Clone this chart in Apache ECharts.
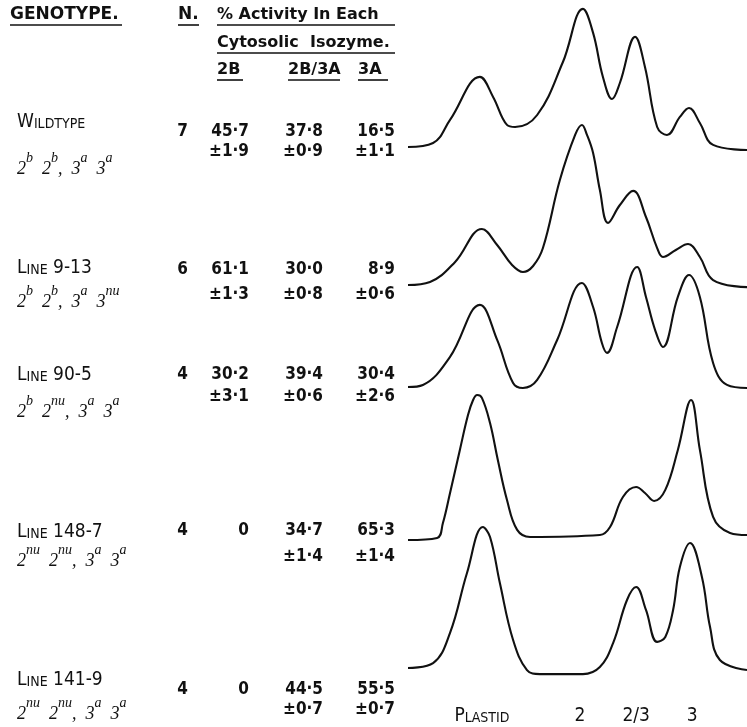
<!DOCTYPE html>
<html>
<head>
<meta charset="utf-8">
<style>html,body{margin:0;padding:0;background:#fff}#main{width:747px;height:727px}</style>
</head>
<body>
<div id="main"></div>
<script src="https://cdn.jsdelivr.net/npm/echarts@6/dist/echarts.min.js"></script>
<script>
// table values
var genotypes = ['WILDTYPE', 'LINE 9-13', 'LINE 90-5', 'LINE 148-7', 'LINE 141-9'];
var alleles = ['2^b 2^b, 3^a 3^a', '2^b 2^b, 3^a 3^nu', '2^b 2^nu, 3^a 3^a', '2^nu 2^nu, 3^a 3^a', '2^nu 2^nu, 3^a 3^a'];
var nSamples = [7, 6, 4, 4, 4];
var pct2B = [45.7, 61.1, 30.2, 0, 0];
var sem2B = [1.9, 1.3, 3.1, null, null];
var pct2B3A = [37.8, 30.0, 39.4, 34.7, 44.5];
var sem2B3A = [0.9, 0.8, 0.6, 1.4, 0.7];
var pct3A = [16.5, 8.9, 30.4, 65.3, 55.5];
var sem3A = [1.1, 0.6, 2.6, 1.4, 0.7];

// densitometer scans: [relative mobility, absorbance]
var scanWild = [[0,0],[7.4,2.5],[12.4,16.9],[21.2,43.8],[25.1,31.3],[29.2,13.8],[31.6,12.5],[38.1,20],[45.7,53.1],[51.6,86.3],[54.6,71.3],[57.5,43.8],[60.2,30],[62.5,40],[67,68.8],[69.9,50],[73.5,12.5],[76.4,7.5],[80.2,18.8],[82.9,24.4],[86.1,15],[90,1.3],[100,-1.9]];
var scan913 = [[0,0],[6.5,1.9],[13.9,14.4],[21.8,35],[26.3,25],[30.7,12.5],[33.9,8.1],[36.9,11.9],[39.8,23.1],[44.8,65.6],[49.3,93.8],[51.3,100],[52.8,93.8],[54.6,82.5],[56.6,59.4],[59,38.8],[62.5,50],[66.4,58.8],[70.2,42.5],[73.5,23.1],[75.2,17.5],[79,21.9],[82.6,25.6],[86.1,17.5],[90,3.1],[100,-1.3]];
var scan905 = [[0,0],[4.4,1.3],[12.4,18.8],[21.2,51.3],[26.3,29.4],[31,2.5],[33.9,-0.6],[38.1,4.4],[44,29.4],[51.3,65],[54.6,50],[57.2,27.5],[58.7,21.3],[61.7,37.5],[67.6,75],[70.2,56.3],[72.9,35.6],[75.2,25],[79.6,56.3],[82.9,70],[86.1,56.3],[90,15],[94.1,1.3],[100,-0.6]];
var scan1487 = [[0,0],[8.6,1.3],[10.3,10.6],[12.4,29.4],[15.3,56.3],[17.7,78.1],[19.2,87.5],[20.4,90.6],[21.8,88.8],[24.2,73.1],[26.5,50],[29.2,25],[32.2,6.3],[36,1.9],[56.6,3.1],[59.6,8.1],[63.4,26.9],[67.3,33.1],[69.9,29.4],[72.6,24.4],[75.9,31.3],[79.6,56.3],[83.5,87.5],[86.1,56.3],[90,14.4],[95,4.4],[100,3.1]];
var scan1419 = [[0,0],[7.4,3.1],[12.4,21.9],[17.4,59.4],[22.1,88.1],[24.2,81.9],[27.1,53.1],[31,17.5],[35.1,-1.3],[38.9,-3.8],[51.6,-3.8],[56.6,0.6],[60.5,15.6],[64.6,42.5],[67.3,50.6],[70.2,36.3],[73.5,16.3],[75.9,19.4],[78.2,36.3],[80.2,63.1],[83.2,78.1],[86.7,56.9],[89.1,25.6],[92,5],[100,-1.3]];
var scans = [scanWild, scan913, scan905, scan1487, scan1419];

// x-axis band labels
var bandLabels = ['PLASTID', '2', '2/3', '3'];
var bandPos = [21.8, 50.7, 67.3, 83.8];

// layout
var baseY = [147, 285, 387, 540, 668];
var rowLabelY = [122, 268, 375, 532, 680];
var rowValY = [132, 270, 375, 531, 690];
var rowSemY = [152, 295, 397, 557, 710];
var rowAlleleY = [165, 298, 408, 557, 710];
var pxPerUnit = 1.6, yMin = -10;

var INK = '#111';
var HEAD = '"DejaVu Sans", sans-serif';
var NUM = '"DejaVu Sans Condensed", "Liberation Sans Narrow", "DejaVu Sans", sans-serif';
var LETTER = '"DejaVu Sans Condensed", "Liberation Sans Narrow", sans-serif';

var chart = echarts.init(document.getElementById('main'));

var grids = [], xAxes = [], yAxes = [], series = [];
scans.forEach(function (d, i) {
    var yMax = Math.min(105, Math.floor(baseY[i] / pxPerUnit));
    grids.push({left: 408, width: 339, top: baseY[i] - yMax * pxPerUnit,
        height: (yMax - yMin) * pxPerUnit, outerBoundsMode: 'none'});
    xAxes.push({type: 'value', gridIndex: i, min: 0, max: 100, show: false});
    yAxes.push({type: 'value', gridIndex: i, min: yMin, max: yMax, show: false});
    series.push({
        name: genotypes[i], type: 'line', xAxisIndex: i, yAxisIndex: i,
        data: d, smooth: 0.4, showSymbol: false, symbol: 'none',
        lineStyle: {color: INK, width: 2.1}
    });
});

chart.setOption({
    backgroundColor: '#fff',
    animation: false,
    grid: grids,
    xAxis: xAxes,
    yAxis: yAxes,
    series: series
});

function fmt(v) {
    return v === 0 ? '0' : v.toFixed(1).replace('.', '\u00b7');
}
function caps(s) {
    var out = '', prev = ' ';
    for (var k = 0; k < s.length; k++) {
        var c = s[k];
        var small = /[A-Z]/.test(c) && prev !== ' ';
        out += small ? '{s|' + c + '}' : '{B|' + c + '}';
        prev = c;
    }
    return out;
}
function allele(s) {
    return s.split(' ').map(function (w) {
        return w.replace(/^(\d)\^(\w+)(,?)$/, function (m, a, b, c) {
            return '{g|' + a + '}{sup|' + b + '}' + (c ? '{g|,}' : '');
        });
    }).join('{g|  }');
}
function txt(text, x, y, font, align) {
    return {type: 'text', x: x, y: y, silent: true,
        style: {text: text, font: font, fill: INK, align: align || 'left', verticalAlign: 'middle',
            textAlign: align || 'left', textVerticalAlign: 'middle'}};
}
function uline(x1, x2, y) {
    return {type: 'line', silent: true, shape: {x1: x1, y1: y, x2: x2, y2: y}, style: {stroke: INK, lineWidth: 1.6}};
}

var capsRich = {
    B: {fontSize: 19, lineHeight: 19, fontFamily: LETTER, color: INK, verticalAlign: 'bottom'},
    s: {fontSize: 14, lineHeight: 14, fontFamily: LETTER, color: INK, verticalAlign: 'bottom'}
};
var alleleRich = {
    g: {fontSize: 18, lineHeight: 27, fontFamily: '"Liberation Serif", serif', fontStyle: 'italic', color: INK, verticalAlign: 'bottom'},
    sup: {fontSize: 14, lineHeight: 14, fontFamily: '"Liberation Serif", serif', fontStyle: 'italic', color: INK, verticalAlign: 'top'}
};

var els = [];
// headers
els.push(txt('GENOTYPE.', 10, 15, 'bold 17px ' + HEAD));
els.push(uline(10, 122, 25));
els.push(txt('N.', 178, 15, 'bold 17px ' + HEAD));
els.push(uline(178, 199, 25));
els.push(txt('% Activity In Each', 217, 15, 'bold 16px ' + HEAD));
els.push(uline(217, 395, 25));
els.push(txt('Cytosolic  Isozyme.', 217, 43, 'bold 16px ' + HEAD));
els.push(uline(217, 395, 53));
els.push(txt('2B', 217, 70, 'bold 16px ' + HEAD));
els.push(uline(217, 243, 80));
els.push(txt('2B/3A', 288, 70, 'bold 16px ' + HEAD));
els.push(uline(288, 340, 80));
els.push(txt('3A', 358, 70, 'bold 16px ' + HEAD));
els.push(uline(358, 388, 80));

var numFont = 'bold 17px ' + NUM;
genotypes.forEach(function (g, i) {
    els.push({type: 'text', x: 17, y: rowLabelY[i], silent: true,
        style: {text: caps(g), rich: capsRich, fill: INK, verticalAlign: 'middle', textVerticalAlign: 'middle'}});
    els.push({type: 'text', x: 17, y: rowAlleleY[i], silent: true,
        style: {text: allele(alleles[i]), rich: alleleRich, fill: INK, verticalAlign: 'middle', textVerticalAlign: 'middle'}});
    els.push(txt(String(nSamples[i]), 188, rowValY[i], numFont, 'right'));
    els.push(txt(fmt(pct2B[i]), 249, rowValY[i], numFont, 'right'));
    els.push(txt(fmt(pct2B3A[i]), 323, rowValY[i], numFont, 'right'));
    els.push(txt(fmt(pct3A[i]), 395, rowValY[i], numFont, 'right'));
    if (sem2B[i] != null) els.push(txt('\u00b1' + fmt(sem2B[i]), 249, rowSemY[i], numFont, 'right'));
    els.push(txt('\u00b1' + fmt(sem2B3A[i]), 323, rowSemY[i], numFont, 'right'));
    els.push(txt('\u00b1' + fmt(sem3A[i]), 395, rowSemY[i], numFont, 'right'));
});

// band labels under the last scan, placed through its x axis
bandLabels.forEach(function (b, i) {
    var px = chart.convertToPixel({xAxisIndex: 4}, bandPos[i]);
    els.push({type: 'text', x: px, y: 716, silent: true,
        style: {text: caps(b), rich: capsRich, fill: INK, align: 'center', verticalAlign: 'middle',
            textAlign: 'center', textVerticalAlign: 'middle'}});
});

chart.setOption({graphic: {elements: els}});
</script>
</body>
</html>
